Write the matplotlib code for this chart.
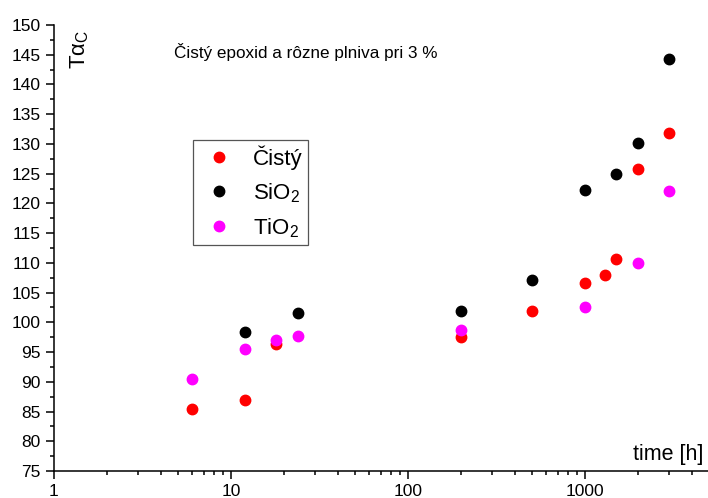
import numpy as np
import matplotlib
matplotlib.use('Agg')
import matplotlib.pyplot as plt
from matplotlib.ticker import LogLocator, FixedLocator, MultipleLocator, FuncFormatter

plt.rcParams['font.family'] = ['Liberation Sans', 'DejaVu Sans']
plt.rcParams['mathtext.fontset'] = 'custom'
plt.rcParams['mathtext.rm'] = 'Liberation Sans'

# Čistý (red)
cisty_t = [6, 12, 18, 200, 500, 1000, 1300, 1500, 2000, 3000]
cisty_v = [85.5, 87.0, 96.3, 97.6, 101.9, 106.6, 107.9, 110.6, 125.8, 131.8]
# SiO2 (black)
sio2_t = [12, 24, 200, 500, 1000, 1500, 2000, 3000]
sio2_v = [98.4, 101.5, 101.9, 107.1, 122.2, 124.9, 130.1, 144.3]
# TiO2 (magenta)
tio2_t = [6, 12, 18, 24, 200, 1000, 2000, 3000]
tio2_v = [90.4, 95.5, 97.0, 97.7, 98.7, 102.6, 110.0, 122.1]

fig = plt.figure(figsize=(7.08, 4.98), dpi=100)
ax = fig.add_axes([54/708, 27/498, 654/708, 446/498])

ms = 7.5
ax.plot(sio2_t, sio2_v, 'o', color='black', ms=ms, label='SiO$_\\mathregular{2}$', zorder=3)
ax.plot(cisty_t, cisty_v, 'o', color='#ff0000', ms=ms, label='Čistý', zorder=3)
ax.plot(tio2_t, tio2_v, 'o', color='#ff00ff', ms=ms, label='TiO$_\\mathregular{2}$', zorder=4)

ax.set_xscale('log')
ax.set_xlim(1, 10 ** (654 / 177))
ax.set_ylim(75, 150)

ax.xaxis.set_major_locator(FixedLocator([1, 10, 100, 1000]))
ax.xaxis.set_minor_locator(LogLocator(base=10, subs=np.arange(2, 10)))
ax.xaxis.set_major_formatter(FuncFormatter(lambda v, p: '%d' % v))
ax.xaxis.set_minor_formatter(FuncFormatter(lambda v, p: ''))
ax.yaxis.set_major_locator(MultipleLocator(5))
ax.yaxis.set_minor_locator(MultipleLocator(2.5))

ax.spines['top'].set_visible(False)
ax.spines['right'].set_visible(False)
for s in ['left', 'bottom']:
    ax.spines[s].set_linewidth(1.1)
ax.tick_params(which='major', direction='out', length=6, width=1.1, labelsize=12.5)
ax.tick_params(which='minor', direction='out', length=3, width=1.1)
ax.tick_params(axis='x', pad=3.5)

ax.text(0.183, 0.939, 'Čistý epoxid a rôzne plniva pri 3 %', transform=ax.transAxes,
        fontsize=12.3, va='center', ha='left')
ax.text(0.04, 0.946, 'Tα$_\\mathregular{C}$', transform=ax.transAxes, rotation=90,
        fontsize=16, va='center', ha='center')
ax.text(0.993, 0.036, 'time [h]', transform=ax.transAxes, fontsize=15.5,
        va='center', ha='right')

h, l = ax.get_legend_handles_labels()
order = [1, 0, 2]
leg = ax.legend([h[i] for i in order], [l[i] for i in order],
                loc='upper left', bbox_to_anchor=(0.2125, 0.742), borderaxespad=0,
                fontsize=16, fancybox=False, framealpha=1, edgecolor='#555555',
                labelspacing=0.5, handletextpad=0.63, handlelength=1.8,
                borderpad=0.25)
leg.get_frame().set_linewidth(0.9)

fig.savefig('out.png', dpi=100)
